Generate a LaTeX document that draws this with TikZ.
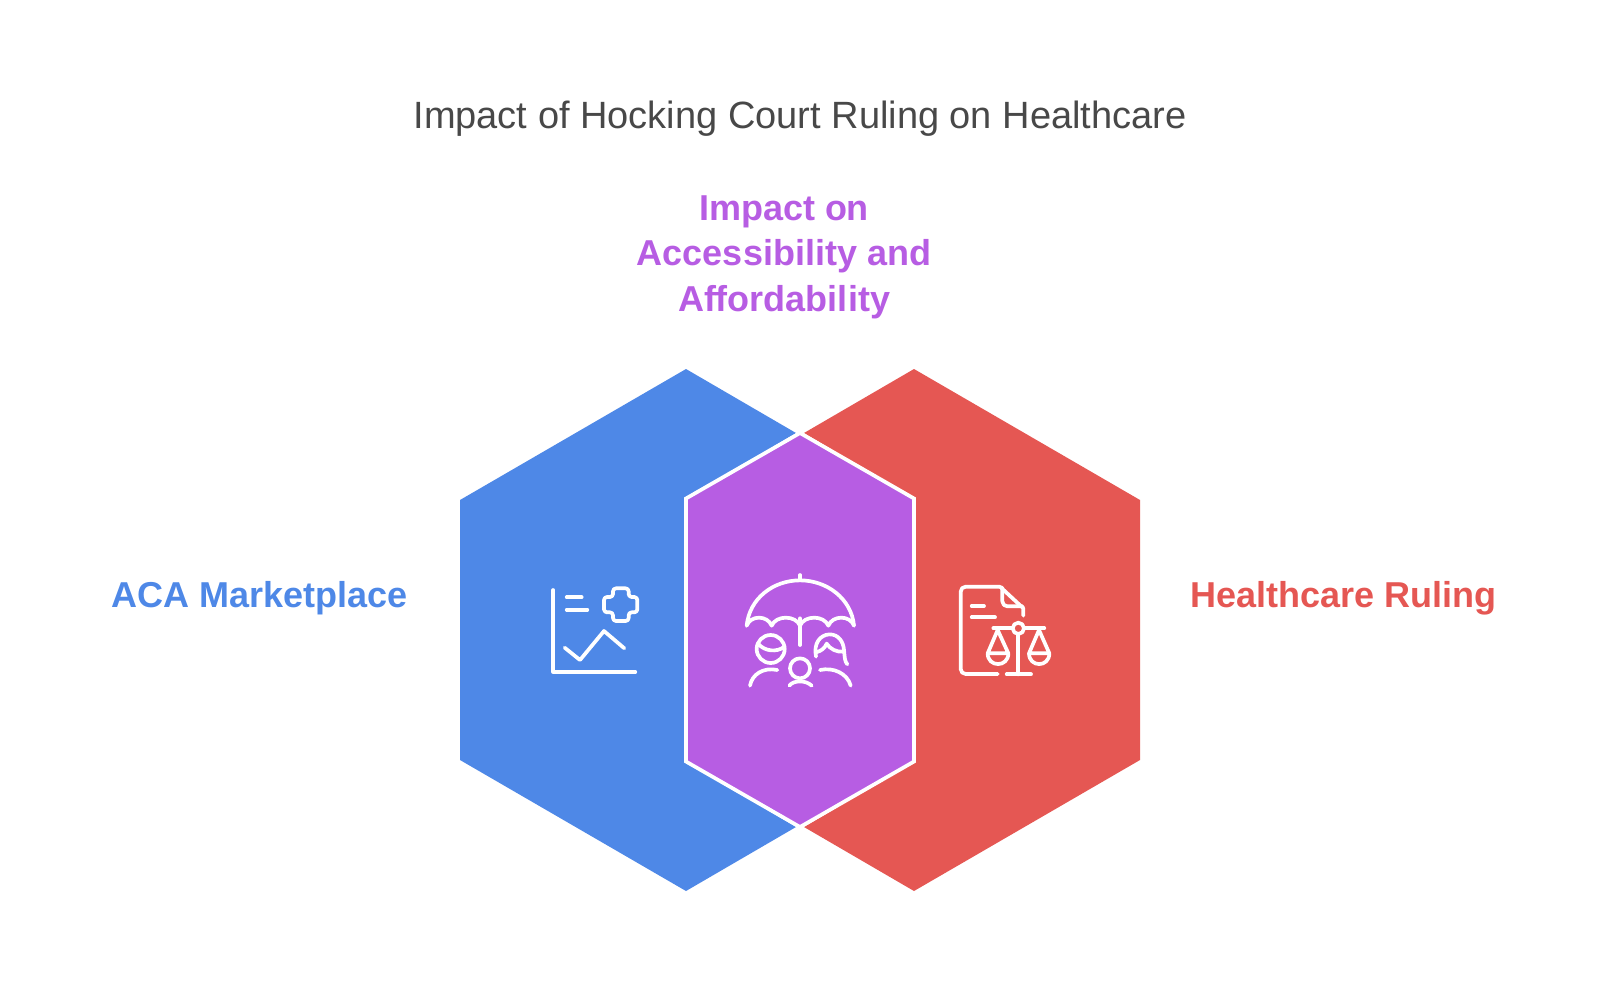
\documentclass[tikz,border=0pt]{standalone}
\usepackage{fontspec}
\setmainfont{Liberation Sans}
\definecolor{acablue}{HTML}{4E88E7}
\definecolor{rulingred}{HTML}{E55753}
\definecolor{impactpurple}{HTML}{B75DE3}
\definecolor{titlegray}{HTML}{484848}
\tikzset{
  icon/.style={draw=white,line width=1.85pt,line cap=round,line join=round},
  heading/.style={font=\bfseries\fontsize{18}{22.75}\selectfont,align=center,inner sep=0pt},
}
\begin{document}
\begin{tikzpicture}[x=0.5pt,y=-0.5pt]
    \useasboundingbox (0,0) rectangle (1600,1007);
    \node[font=\fontsize{19}{22}\selectfont,text=titlegray,inner sep=0pt] (title) at (800,119) {Impact of Hocking Court Ruling on Healthcare};
    \node[heading,text=impactpurple] (impact) at (784,257) {Impact on\\Accessibility and\\Affordability};
    \node[heading,text=acablue] (aca) at (260,598.5) {ACA Marketplace};
    \node[heading,text=rulingred] (ruling) at (1343.5,598.5) {Healthcare Ruling};
    % hexagons
    \fill[acablue] (686,369) -- (796,433) -- (686,498) -- (686,762) -- (796,827) -- (686,891) -- (460,760) -- (460,500) -- cycle;
    \fill[rulingred] (914,369) -- (804,433) -- (914,498) -- (914,762) -- (804,827) -- (914,891) -- (1140,760) -- (1140,500) -- cycle;
    \filldraw[fill=impactpurple,draw=white,line width=1.85pt,line join=miter] (800,433) -- (914,498.5) -- (914,761.5) -- (800,827) -- (686,761.5) -- (686,498.5) -- cycle;
    % chart with cross
    \begin{scope}[shift={(530,560)},scale=1/3]
        \draw[icon] (70,90) -- (70,336) -- (316,336);
        \draw[icon] (110,112) -- (155,112);
        \draw[icon] (110,149) -- (172,149);
        \draw[icon] (104,263) -- (150,300) -- (222,213) -- (283,265);
        \draw[icon,rounded corners=1.5pt] (249,85) -- (296,85) -- (296,111) -- (322,111) -- (322,157) -- (296,157) -- (296,183) -- (249,183) -- (249,157) -- (222,157) -- (222,111) -- (249,111) -- cycle;
    \end{scope}
    % umbrella with family
    \begin{scope}[shift={(730,565)},scale=1/3]
        \draw[icon] (210,30) -- (210,46);
        \draw[icon] (50,182) .. controls (58,100) and (130,46) .. (210,46) .. controls (290,46) and (364,100) .. (372,182);
        \draw[icon] (50,182) .. controls (62,150) and (112,150) .. (125,182) .. controls (138,150) and (197,150) .. (210,182) .. controls (223,150) and (282,150) .. (295,182) .. controls (308,150) and (360,150) .. (372,182);
        \draw[icon] (210,160) -- (210,240);
        \draw[icon] (122,252) circle[radius=42];
        \draw[icon] (84,236) .. controls (105,260) and (140,262) .. (162,246);
        \draw[icon] (60,362) .. controls (66,328) and (100,306) .. (142,315);
        \draw[icon] (258,275) .. controls (250,235) and (270,210) .. (298,208) .. controls (326,208) and (340,230) .. (342,255) .. controls (344,275) and (344,290) .. (352,298);
        \draw[icon] (258,262) .. controls (275,258) and (285,248) .. (290,236) .. controls (300,252) and (320,262) .. (340,260);
        \draw[icon] (270,315) .. controls (310,306) and (352,325) .. (362,362);
        \draw[icon] (210,310) circle[radius=30];
        \draw[icon] (178,362) .. controls (190,345) and (228,345) .. (245,362);
    \end{scope}
    % document with scales
    \begin{scope}[shift={(945,575)},scale=1/3]
        \draw[icon,rounded corners=2.5pt] (158,297) -- (47,297) -- (47,35) -- (165,35);
        \draw[icon] (165,35) -- (235,100) -- (235,122);
        \draw[icon,rounded corners=2.5pt] (172,38) -- (172,94) -- (233,94);
        \draw[icon] (80,93) -- (117,93);
        \draw[icon] (80,127) -- (150,127);
        \draw[icon] (145,160) -- (203,160);
        \draw[icon] (237,160) -- (298,160);
        \draw[icon] (220,160) circle[radius=17];
        \draw[icon] (220,177) -- (220,298);
        \draw[icon] (185,298) -- (258,298);
        \draw[icon] (128,235) -- (158,165) -- (190,235) -- cycle;
        \draw[icon] (128,235) .. controls (128,278) and (190,278) .. (190,235);
        \draw[icon] (252,235) -- (282,165) -- (313,235) -- cycle;
        \draw[icon] (252,235) .. controls (252,278) and (313,278) .. (313,235);
    \end{scope}
\end{tikzpicture}
\end{document}
